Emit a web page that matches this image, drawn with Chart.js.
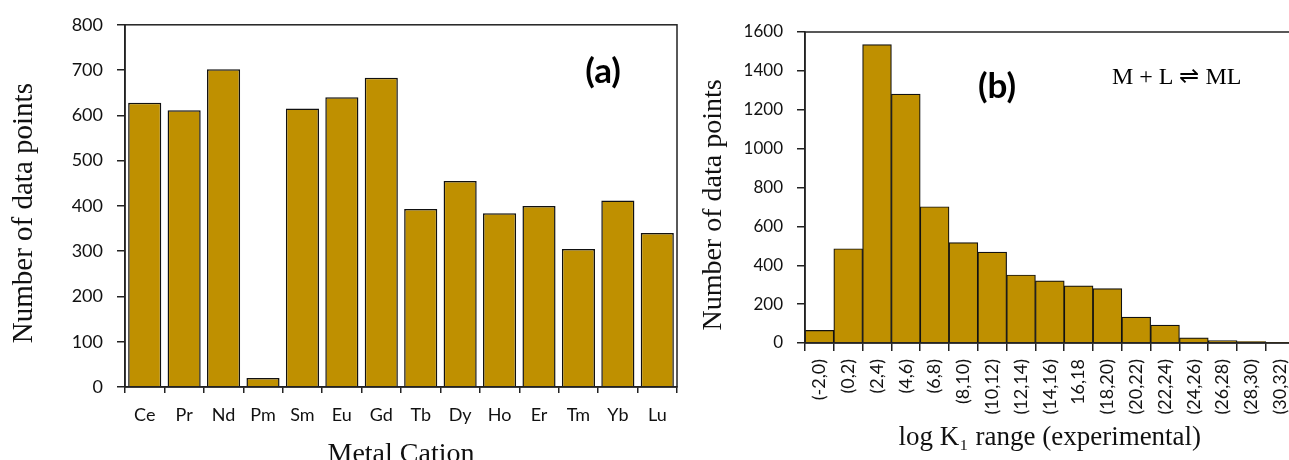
<!DOCTYPE html>
<html>
<head>
<meta charset="utf-8">
<script src="https://cdn.jsdelivr.net/npm/chart.js@4.4.0/dist/chart.umd.min.js"></script>
<style>
    body { margin: 0; background: #fff; width: 1289px; height: 460px; overflow: hidden; position: relative; }
    #boxA { position: absolute; left: 0; top: 0; width: 690px; height: 480px; }
    #boxB { position: absolute; left: 690px; top: 0; width: 620px; height: 460px; }
</style>
</head>
<body>
<div id="boxA"><canvas id="chart1" width="690" height="480" style="width:690px;height:480px"></canvas></div>
<div id="boxB"><canvas id="chart2" width="620" height="460" style="width:620px;height:460px"></canvas></div>
<script>
// panel (a): data points per metal cation
const cations = ['Ce', 'Pr', 'Nd', 'Pm', 'Sm', 'Eu', 'Gd', 'Tb', 'Dy', 'Ho', 'Er', 'Tm', 'Yb', 'Lu'];
const cationCounts = [628, 611, 702, 20, 615, 640, 683, 393, 455, 384, 400, 305, 412, 340];
const cationTicks = [0, 100, 200, 300, 400, 500, 600, 700, 800];

// panel (b): data points per log K1 range
const logKRanges = ['(-2,0)', '(0,2)', '(2,4)', '(4,6)', '(6,8)', '(8,10)', '(10,12)', '(12,14)', '(14,16)',
    '16,18', '(18,20)', '(20,22)', '(22,24)', '(24,26)', '(26,28)', '(28,30)', '(30,32)'];
const logKCounts = [65, 485, 1535, 1281, 701, 516, 468, 350, 320, 294, 280, 133, 92, 26, 12, 7, 3];
const logKTicks = [0, 200, 400, 600, 800, 1000, 1200, 1400, 1600];

const barColor = '#bf9000';

// draws the box round the plot area and the text labels inside it
function framePlugin(notes) {
    return {
        id: 'frame',
        afterDraw: function (chart) {
            const a = chart.chartArea;
            const c = chart.ctx;
            c.save();
            c.strokeStyle = '#222';
            c.lineWidth = 1.5;
            c.strokeRect(a.left, a.top, a.right - a.left, a.bottom - a.top);
            c.fillStyle = '#000';
            c.textAlign = 'center';
            c.textBaseline = 'middle';
            notes.forEach(function (n) {
                c.font = n.font;
                c.fillText(n.text, a.left + n.fx * (a.right - a.left), a.top + n.fy * (a.bottom - a.top));
            });
            c.restore();
        }
    };
}

function barChart(canvas, labels, data, ticks, opts) {
    const ctx = document.getElementById(canvas);
    return new Chart(ctx, {
        type: 'bar',
        data: {
            labels: labels,
            datasets: [{
                data: data,
                backgroundColor: barColor,
                borderColor: '#111',
                borderWidth: opts.borderWidth,
                barPercentage: opts.barPercentage,
                categoryPercentage: 1
            }]
        },
        options: {
            responsive: false,
            animation: false,
            layout: { padding: opts.padding },
            plugins: { legend: { display: false }, tooltip: { enabled: false } },
            scales: {
                x: {
                    afterFit: function (scale) { scale.height = opts.xHeight; },
                    border: { color: '#222', width: 1.5 },
                    grid: { drawOnChartArea: false, color: '#222', lineWidth: 1.5, tickLength: opts.xTickLength },
                    ticks: {
                        color: '#111',
                        font: opts.xFont,
                        padding: opts.xPadding,
                        autoSkip: false,
                        minRotation: opts.rotation,
                        maxRotation: opts.rotation
                    },
                    title: {
                        display: true,
                        text: opts.xTitle,
                        color: '#111',
                        font: { family: 'Liberation Serif', size: opts.xTitleSize },
                        padding: { top: 0, bottom: opts.xTitlePad }
                    }
                },
                y: {
                    min: 0,
                    max: ticks[ticks.length - 1],
                    afterFit: function (scale) { scale.width = opts.yWidth; },
                    afterBuildTicks: function (scale) {
                        scale.ticks = ticks.map(function (v) { return { value: v }; });
                    },
                    border: { color: '#222', width: 1.5 },
                    grid: { drawOnChartArea: false, color: '#222', lineWidth: 1.5, tickLength: 8 },
                    ticks: {
                        color: '#111',
                        font: opts.yFont,
                        padding: 14,
                        callback: function (value) { return String(value); }
                    },
                    title: {
                        display: true,
                        // trailing spaces nudge the centred title down a little, as in the source figure
                        text: 'Number of data points' + opts.yTitleTail,
                        color: '#111',
                        font: { family: 'Liberation Serif', size: opts.yTitleSize },
                        padding: { top: 7, bottom: 0 }
                    }
                }
            }
        },
        plugins: [framePlugin(opts.notes)]
    });
}

barChart('chart1', cations, cationCounts, cationTicks, {
    borderWidth: 1.5,
    barPercentage: 0.84,
    padding: { left: 0, top: 22, right: 13, bottom: 0 },
    xHeight: 93,
    yWidth: 125,
    xTickLength: 6,
    xPadding: 11,
    rotation: 0,
    xFont: { family: 'Lato', size: 18 },
    yFont: { family: 'Lato', size: 18 },
    xTitle: 'Metal Cation',
    xTitleSize: 28,
    xTitlePad: 9,
    yTitleSize: 29,
    yTitleTail: '  ',
    notes: [{ text: '(a)', font: 'bold 35px Lato', fx: 0.866, fy: 0.129 }]
});

barChart('chart2', logKRanges, logKCounts, logKTicks, {
    borderWidth: 1.2,
    barPercentage: 1,
    padding: { left: 0, top: 32, right: 5, bottom: 0 },
    xHeight: 117,
    yWidth: 115,
    xTickLength: 8,
    xPadding: 8,
    rotation: 90,
    xFont: { family: 'Lato', size: 18 },
    yFont: { family: 'Lato', size: 17 },
    xTitle: 'log K\u2081 range (experimental)',
    xTitleSize: 27,
    xTitlePad: 6,
    yTitleSize: 28,
    yTitleTail: '     ',
    notes: [
        { text: '(b)', font: 'bold 35px Lato', fx: 0.392, fy: 0.177 },
        { text: 'M + L \u21cc ML', font: '24px "Liberation Serif"', fx: 0.759, fy: 0.148 }
    ]
});
</script>
</body>
</html>
